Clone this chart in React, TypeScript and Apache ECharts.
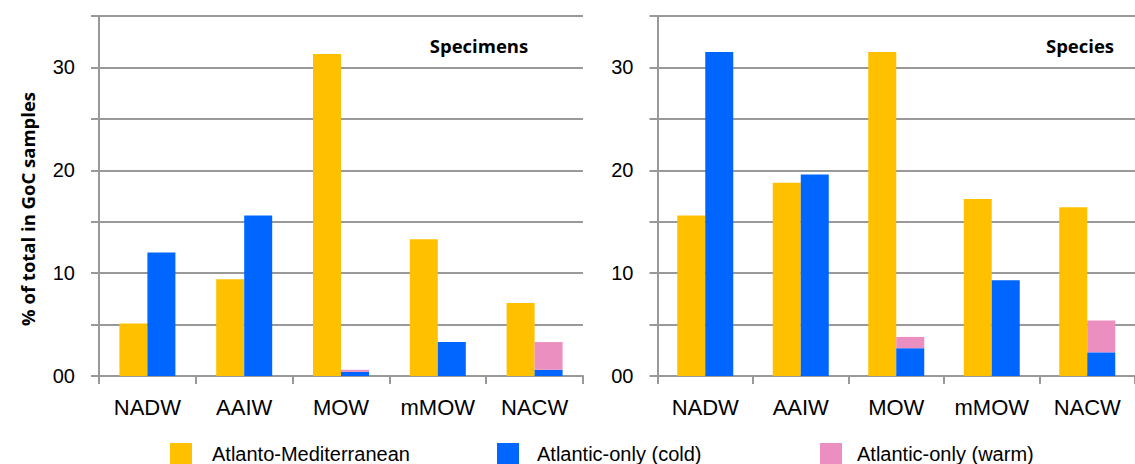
import React, { useEffect, useRef } from "react";
import * as echarts from "echarts";

const categories = ["NADW", "AAIW", "MOW", "mMOW", "NACW"];
const yTicks = [0, 10, 20, 30];

const specimensMed = [5.1, 9.4, 31.3, 13.3, 7.1];
const specimensCold = [12.0, 15.6, 0.4, 3.3, 0.6];
const specimensWarm = [0, 0, 0.2, 0, 2.7];

const speciesMed = [15.6, 18.8, 31.5, 17.2, 16.4];
const speciesCold = [31.5, 19.6, 2.7, 9.3, 2.3];
const speciesWarm = [0, 0, 1.1, 0, 3.1];

const seriesNames = ["Atlanto-Mediterranean", "Atlantic-only (cold)", "Atlantic-only (warm)"];
const colors = ["#FFC000", "#0066FF", "#EA8FC0"];

const GREY = "#999999";

export default function App() {
  const ref = useRef<HTMLDivElement>(null);
  useEffect(() => {
    if (!ref.current) return;
    const chart = echarts.init(ref.current, null, { renderer: "svg" });

    const grids = [
      { left: 99, top: 16, width: 484, height: 360 },
      { left: 657.5, top: 16, width: 485, height: 360 },
    ];

    const xAxis = grids.map((_, i) => ({
      type: "category",
      gridIndex: i,
      data: categories,
      boundaryGap: true,
      axisLine: { show: true, lineStyle: { color: GREY, width: 2 } },
      axisTick: { show: true, length: 8, interval: 0, lineStyle: { color: GREY, width: 2 } },
      axisLabel: {
        color: "#000",
        fontFamily: "Liberation Sans, Arial",
        fontSize: 22,
        margin: 20,
        interval: 0,
      },
      splitLine: { show: false },
    }));

    const yAxis = grids.map((_, i) => ({
      type: "value",
      gridIndex: i,
      min: 0,
      max: 35,
      interval: 5,
      axisLine: { show: true, lineStyle: { color: GREY, width: 2 } },
      axisTick: { show: true, length: 8, lineStyle: { color: GREY, width: 2 } },
      axisLabel: {
        color: "#000",
        fontFamily: "Liberation Sans, Arial",
        fontSize: 20,
        margin: 24,
        formatter: (v: number) =>
          yTicks.includes(v) ? (v === 0 ? "00" : String(v)) : "",
      },
      splitLine: { show: true, lineStyle: { color: GREY, width: 2 } },
    }));

    const panels = [
      [specimensMed, specimensCold, specimensWarm],
      [speciesMed, speciesCold, speciesWarm],
    ];

    const series: any[] = [];
    panels.forEach((vals, i) => {
      vals.forEach((data, k) => {
        series.push({
          type: "bar",
          name: seriesNames[k],
          xAxisIndex: i,
          yAxisIndex: i,
          stack: k === 0 ? "med" + i : "atl" + i,
          data,
          barWidth: 28,
          barGap: "0%",
          itemStyle: { color: colors[k] },
        });
      });
    });

    const legendLeft = [170, 497, 820];
    const legendPad = [15, 13, 10];
    const legend = seriesNames.map((n, k) => ({
      data: [n],
      left: legendLeft[k],
      top: 443,
      padding: 0,
      itemWidth: 22,
      itemHeight: 22,
      selectedMode: false,
      icon: "rect",
      textStyle: {
        color: "#000",
        fontFamily: "Liberation Sans, Arial",
        fontSize: 20,
        padding: [0, 0, 0, legendPad[k]],
      },
    }));

    chart.setOption({
      animation: false,
      backgroundColor: "#fff",
      grid: grids,
      xAxis,
      yAxis,
      series,
      legend,
      graphic: [
        {
          type: "text",
          x: 27,
          y: 209,
          rotation: Math.PI / 2,
          style: {
            text: "% of total in GoC samples",
            fontFamily: "Open Sans",
            fontWeight: "bold",
            fontSize: 18.5,
            fill: "#000",
            align: "center",
            verticalAlign: "middle",
          },
        },
        {
          type: "text",
          x: 479,
          y: 45,
          style: {
            text: "Specimens",
            fontFamily: "Open Sans",
            fontWeight: "bold",
            fontSize: 18.5,
            fill: "#000",
            align: "center",
            verticalAlign: "middle",
          },
        },
        {
          type: "text",
          x: 1080,
          y: 45,
          style: {
            text: "Species",
            fontFamily: "Open Sans",
            fontWeight: "bold",
            fontSize: 18.5,
            fill: "#000",
            align: "center",
            verticalAlign: "middle",
          },
        },
      ],
    });
    return () => chart.dispose();
  }, []);
  return (
    <div
      ref={ref}
      style={{ position: "fixed", left: 0, top: 0, width: 1135, height: 464 }}
    />
  );
}
